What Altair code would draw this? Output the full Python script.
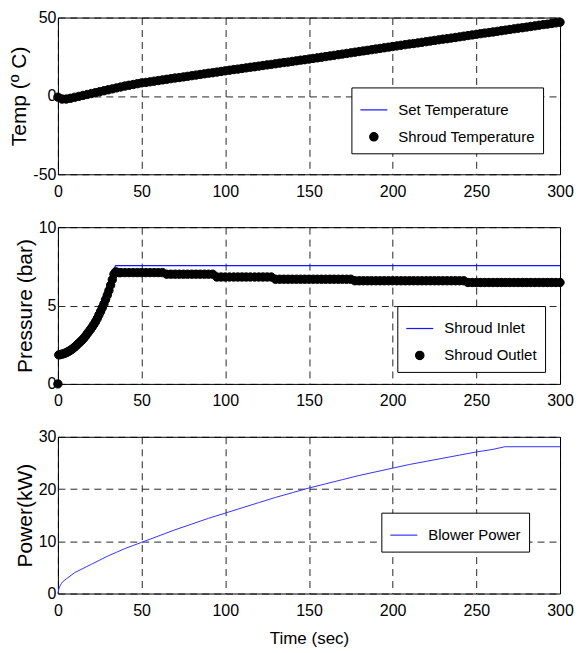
import altair as alt
import pandas as pd

# ---------------- data ----------------
TIME_TEMP = [i * 2.5 for i in range(121)]
SHROUD_TEMP = [
    -0.8, -2.0, -2.0, -1.5, -0.9, -0.3, 0.3, 0.9, 1.5, 2.1,
    2.7, 3.3, 3.9, 4.5, 5.1, 5.7, 6.3, 6.8, 7.3, 7.8,
    8.3, 8.6, 9.0, 9.4, 9.8, 10.2, 10.6, 11.0, 11.4, 11.7,
    12.1, 12.5, 12.9, 13.3, 13.7, 14.1, 14.5, 14.8, 15.2, 15.6,
    16.0, 16.4, 16.8, 17.1, 17.5, 17.9, 18.3, 18.6, 19.0, 19.4,
    19.8, 20.1, 20.5, 20.9, 21.3, 21.6, 22.0, 22.4, 22.8, 23.1,
    23.5, 23.9, 24.3, 24.7, 25.1, 25.5, 25.9, 26.3, 26.7, 27.1,
    27.5, 27.9, 28.3, 28.7, 29.1, 29.5, 29.9, 30.3, 30.7, 31.1,
    31.5, 31.9, 32.3, 32.7, 33.1, 33.4, 33.8, 34.2, 34.6, 35.0,
    35.4, 35.8, 36.2, 36.5, 36.9, 37.3, 37.7, 38.1, 38.5, 38.9,
    39.3, 39.7, 40.1, 40.4, 40.8, 41.2, 41.6, 42.0, 42.4, 42.8,
    43.2, 43.5, 43.9, 44.3, 44.7, 45.1, 45.5, 45.8, 46.2, 46.6,
    47.0,
]
SET_TIME = [0, 5, 10, 20, 30, 40, 50, 60, 70, 80, 90, 100, 120, 150, 200, 250, 300]
SET_TEMP = [-1.0, -2.2, -1.2, 1.2, 3.6, 5.9, 7.6, 9.4, 11.1, 12.7, 14.3, 15.9,
            18.9, 23.4, 31.4, 39.2, 46.9]

P_OUT_TIME = [0] + [0.5 + i for i in range(37)] + [37.5 + 2.5 * i for i in range(106)]
P_OUT = [
    0.0,
    1.85, 1.87, 1.9, 1.93, 1.97, 2.02, 2.08, 2.15, 2.22, 2.3,
    2.4, 2.5, 2.6, 2.7, 2.8, 2.92, 3.05, 3.2, 3.34, 3.48,
    3.63, 3.8, 3.97, 4.17, 4.4, 4.62, 4.86, 5.1, 5.38, 5.66,
    5.96, 6.3, 6.65, 7.0, 7.15, 7.12, 7.1,
    7.1, 7.1, 7.1, 7.1, 7.1, 7.1, 7.1, 7.1, 7.1, 7.1, 7.1,
    7.0, 7.0, 7.0, 7.0, 7.0, 7.0, 7.0, 7.0, 7.0, 7.0, 7.0, 7.0,
    6.82, 6.82, 6.82, 6.82, 6.82, 6.82, 6.82, 6.82, 6.82, 6.82, 6.82, 6.82, 6.82, 6.82,
    6.68, 6.68, 6.68, 6.68, 6.68, 6.68, 6.68, 6.68, 6.68, 6.68, 6.68, 6.68, 6.68, 6.68,
    6.68, 6.68, 6.68, 6.68, 6.68,
    6.58, 6.58, 6.58, 6.58, 6.58, 6.58, 6.58, 6.58, 6.58, 6.58, 6.58, 6.58, 6.58, 6.58,
    6.58, 6.58, 6.58, 6.58, 6.58, 6.58, 6.58, 6.58, 6.58, 6.58, 6.58, 6.58, 6.58,
    6.47, 6.47, 6.47, 6.47, 6.47, 6.47, 6.47, 6.47, 6.47, 6.47, 6.47, 6.47, 6.47, 6.47,
    6.47, 6.47, 6.47, 6.47, 6.47, 6.47, 6.47, 6.47, 6.47,
]
P_IN_TIME = [0, 5, 10, 15, 20, 25, 30, 32, 34.5, 300]
P_IN = [1.95, 2.2, 2.55, 3.1, 3.9, 5.0, 6.4, 7.0, 7.55, 7.55]

POW_TIME = [0, 0.5, 1, 2, 3, 5, 10, 15, 20, 25, 30, 35, 40, 45, 50, 60, 70, 80, 90,
            100, 110, 120, 130, 140, 150, 160, 170, 180, 190, 200, 210, 220, 230,
            240, 250, 260, 267, 300]
POW = [0, 0.8, 1.3, 1.9, 2.3, 2.8, 4.0, 4.8, 5.6, 6.4, 7.2, 7.9, 8.6, 9.2, 9.8,
       11.0, 12.2, 13.3, 14.4, 15.4, 16.4, 17.4, 18.4, 19.3, 20.2, 21.0, 21.8,
       22.6, 23.3, 24.0, 24.7, 25.3, 25.9, 26.5, 27.1, 27.6, 28.1, 28.1]

X_TICKS = [0, 50, 100, 150, 200, 250, 300]

# ---------------- styling ----------------
SANS = "Liberation Sans, Arial"
W, H = 503, 157
BLUE = "#1515ff"
LBL = "datum.value < 0 ? '-' + abs(datum.value) : '' + datum.value"

xs = alt.Scale(domain=[0, 300], nice=False, zero=False)


def xax(title=None):
    if title:
        return alt.Axis(values=X_TICKS, title=title, labelExpr=LBL)
    return alt.Axis(values=X_TICKS, title=None, labelExpr=LBL)


def legend(x, y, size=None):
    kw = dict(title=None, orient="none", legendX=x, legendY=y,
              strokeColor="black", fillColor="white", padding=8,
              labelFont=SANS, labelFontSize=15, labelColor="black",
              labelOffset=10, rowPadding=11, symbolStrokeWidth=1.2,
              cornerRadius=0, labelLimit=300)
    if size:
        kw["symbolSize"] = size
    return alt.Legend(**kw)


def point_panel(df_pts, df_line, ytitle, ydom, yvals, names, lx, ly, line_color):
    y = alt.Y("v:Q", scale=alt.Scale(domain=ydom, nice=False, zero=False),
              axis=alt.Axis(values=yvals, title=ytitle, labelExpr=LBL))
    line = alt.Chart(df_line).mark_line(color=line_color, strokeWidth=1.3).encode(
        x=alt.X("t:Q", scale=xs, axis=xax()), y=y)
    leg = legend(lx, ly)
    pts = alt.Chart(df_pts).mark_point(filled=True, opacity=1, strokeWidth=1).encode(
        x=alt.X("t:Q", scale=xs, axis=xax()),
        y=y,
        fill=alt.Fill("s:N", scale=alt.Scale(domain=names, range=[line_color, "black"]), legend=leg),
        stroke=alt.Stroke("s:N", scale=alt.Scale(domain=names, range=[line_color, "black"]), legend=leg),
        shape=alt.Shape("s:N", scale=alt.Scale(domain=names, range=["stroke", "circle"]), legend=leg),
        size=alt.Size("s:N", scale=alt.Scale(domain=names, range=[729, 70]), legend=leg),
    )
    return alt.layer(line, pts).properties(width=W, height=H)


temp_names = ["Set Temperature", "Shroud Temperature"]
df_t_pts = pd.DataFrame({"t": TIME_TEMP, "v": SHROUD_TEMP, "s": temp_names[1]})
df_t_line = pd.DataFrame({"t": SET_TIME, "v": SET_TEMP})
p1 = point_panel(df_t_pts, df_t_line, "Temp (º C)", [-50, 50], [-50, 0, 50],
                 temp_names, 294, 70, BLUE)

press_names = ["Shroud Inlet", "Shroud Outlet"]
df_p_pts = pd.DataFrame({"t": P_OUT_TIME, "v": P_OUT, "s": press_names[1]})
df_p_line = pd.DataFrame({"t": P_IN_TIME, "v": P_IN})
p2 = point_panel(df_p_pts, df_p_line, "Pressure (bar)", [0, 10], [0, 5, 10],
                 press_names, 340, 79, BLUE)

df_pow = pd.DataFrame({"t": POW_TIME, "v": POW, "s": "Blower Power"})
p3 = alt.Chart(df_pow).mark_line(strokeWidth=1).encode(
    x=alt.X("t:Q", scale=xs, axis=xax("Time (sec)")),
    y=alt.Y("v:Q", scale=alt.Scale(domain=[0, 30], nice=False),
            axis=alt.Axis(values=[0, 10, 20, 30], title="Power(kW)", labelExpr=LBL)),
    stroke=alt.Stroke("s:N", scale=alt.Scale(domain=["Blower Power"], range=["#3333ff"]),
                      legend=legend(324, 76, size=729)),
).properties(width=W, height=H)

chart = alt.vconcat(p1, p2, p3, spacing=18).resolve_scale(
    fill="independent", stroke="independent", shape="independent", size="independent",
    color="independent"
).resolve_legend(
    fill="independent", stroke="independent", shape="independent", size="independent",
    color="independent"
).properties(
    padding={"left": 0, "top": 0, "right": 0, "bottom": 0}
).configure_view(
    stroke="black", strokeWidth=1
).configure_axis(
    grid=True, gridColor="#000000", gridDash=[7, 5], gridWidth=1, gridOpacity=0.85,
    domain=False, ticks=False, labelFlush=False,
    labelFont=SANS, labelFontSize=16, labelColor="black", labelPadding=2,
    titleFont=SANS, titleFontSize=21, titleFontWeight="normal", titleColor="black",
    titlePadding=3,
).configure_axisX(labelPadding=9, titlePadding=12, titleFontSize=17)

chart.save("out.html", embed_options={"renderer": "svg", "actions": False})
